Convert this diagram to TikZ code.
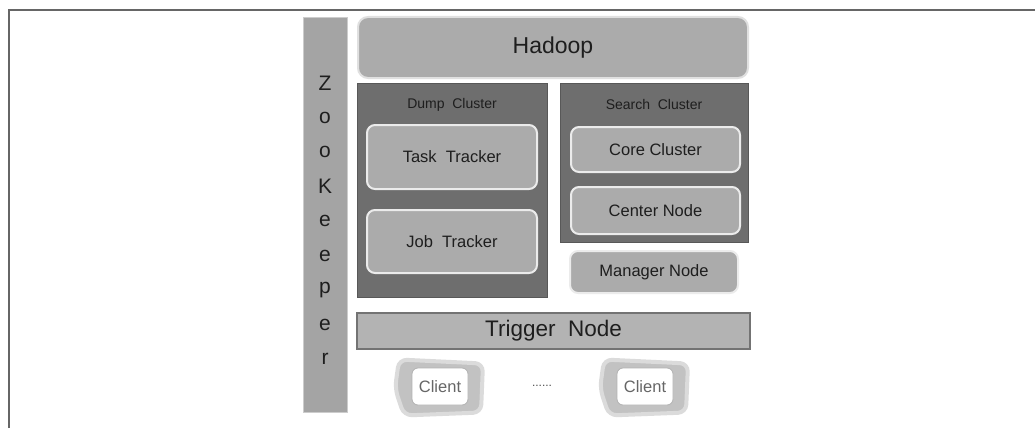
\documentclass[tikz,border=0pt]{standalone}
\usepackage{fontspec}
\setmainfont{Liberation Sans}
\usetikzlibrary{positioning}
\usetikzlibrary{backgrounds}
\definecolor{midgray}{HTML}{ABABAB}
\definecolor{darkgray}{HTML}{6E6E6E}
\definecolor{barGray}{HTML}{A4A4A4}
\definecolor{inkgray}{HTML}{1E1E1E}
\tikzset{layerbox/.style = {fill=midgray, draw=white!88!black, line width=2pt,
                            rounded corners=10pt, text=inkgray, font=\fontsize{23}{26}\selectfont}}
\tikzset{clusterbox/.style = {fill=darkgray, draw=darkgray!80!black, line width=1pt}}
\tikzset{innerbox/.style = {fill=midgray, draw=white!92!black, line width=2pt,
                            rounded corners=8pt, text=inkgray, font=\fontsize{16.5}{19}\selectfont}}
\tikzset{triggerbox/.style = {fill=midgray!90!white, draw=black!55, line width=1.2pt,
                              text=inkgray, font=\fontsize{22.5}{25}\selectfont}}
\tikzset{clientbox/.style = {fill=white, draw=black!30, line width=0.8pt, rounded corners=6pt,
                             minimum width=56pt, minimum height=37pt, text=black!60,
                             font=\fontsize{16.5}{19}\selectfont}}
\tikzset{blob/.style = {fill=black!24, draw=black!14, line width=4pt, rounded corners=8pt}}

\begin{document}
\begin{tikzpicture}[x=1pt, y=-1pt]
      \useasboundingbox (0,0) rectangle (1035,428);
      \draw[black!60, line width=1.2pt] (9,428) -- (9,10) -- (1035,10);

      % left bar
      \node[fill=barGray, draw=black!20, line width=1pt, minimum width=44pt,
            minimum height=394pt, inner sep=0] (zk) at (325,215) {};
      \foreach \ch [count=\i] in {Z,o,o,K,e,e,p,e,r}
        \node[text=inkgray, font=\fontsize{21}{24}\selectfont] (zk\i) at (325, 48.5+34.5*\i) {\ch};

      \node[layerbox, minimum width=390pt, minimum height=61pt] (hadoop) at (553,47.5) {Hadoop};

      % dump side
      \node[clusterbox, minimum width=190pt, minimum height=214pt] (dump) at (452,190) {};
      \node[text=inkgray, font=\fontsize{14}{17}\selectfont] (dumplabel) at (452,105) {Dump~~Cluster};
      \node[innerbox, minimum width=170pt, minimum height=64pt] (task) at (452,157) {Task~~Tracker};
      \node[innerbox, minimum width=170pt, minimum height=63pt] (job) at (452,241.5) {Job~~Tracker};

      % search side
      \node[clusterbox, minimum width=188pt, minimum height=159pt] (search) at (654,162.5) {};
      \node[text=inkgray, font=\fontsize{14}{17}\selectfont] (searchlabel) at (654,104) {Search~~Cluster};
      \node[innerbox, minimum width=169pt, minimum height=45pt] (core) at (655.5,149.5) {Core Cluster};
      \node[innerbox, minimum width=169pt, minimum height=47pt] (center) at (655.5,210.5) {Center Node};
      \node[innerbox, minimum width=168pt, minimum height=42pt] (manager) at (654,272) {Manager Node};

      \node[triggerbox, minimum width=393pt, minimum height=36pt] (trigger) at (553.5,331) {Trigger~~Node};

      % clients
      \node[clientbox] (client1) at (440,386.5) {Client};
      \node[clientbox] (client2) at (645,386.5) {Client};
      \node[text=black!70, font=\fontsize{12}{14}\selectfont] (dots) at (542,386) {......};
      \begin{scope}[on background layer]
        \foreach \c in {client1,client2}
          \draw[blob] ([shift={(-41,-27)}]\c.center) -- ([shift={(43,-23)}]\c.center)
                      -- ([shift={(41,26)}]\c.center) -- ([shift={(-36,29)}]\c.center)
                      -- ([shift={(-45,2)}]\c.center) -- cycle;
      \end{scope}
    \end{tikzpicture}
\end{document}
